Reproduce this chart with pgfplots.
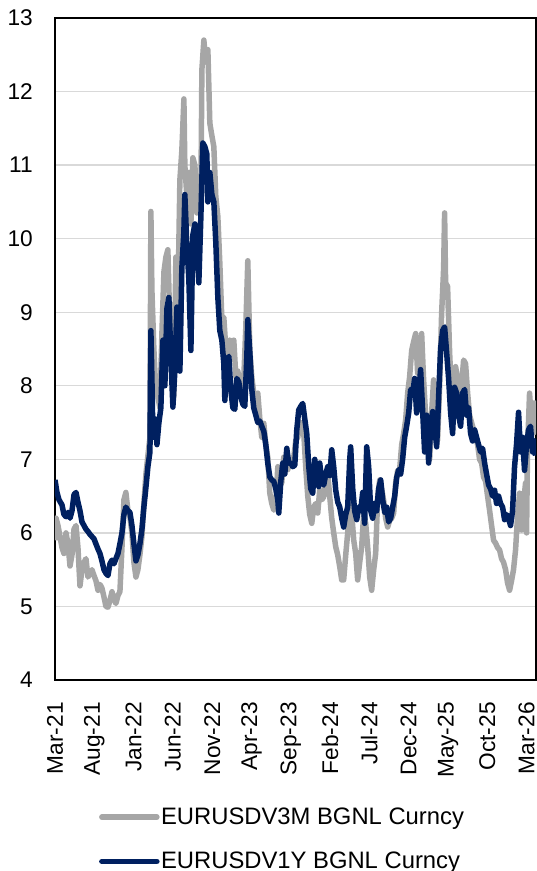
\documentclass[border=0pt]{standalone}
\usepackage{pgfplots}
\pgfplotsset{compat=1.18}
\usepackage{fontspec}
\setmainfont{Liberation Sans}
\definecolor{volgray}{RGB}{166,166,166}
\definecolor{volnavy}{RGB}{0,32,96}
\definecolor{gridgray}{RGB}{217,217,217}
\newcommand{\fs}{\fontsize{22.7pt}{27pt}\selectfont}
\newcommand{\lfs}{\fontsize{23.8pt}{28pt}\selectfont}
\begin{document}
\begin{tikzpicture}
\useasboundingbox (-55pt,-191pt) rectangle (482pt,680pt);
\begin{axis}[
  at={(0pt,0pt)}, anchor=south west,
  scale only axis, width=481pt, height=662pt,
  xmin=0, xmax=61.2, ymin=4, ymax=13,
  xtick={0,5,...,60},
  xticklabels={Mar-21,Aug-21,Jan-22,Jun-22,Nov-22,Apr-23,Sep-23,Feb-24,Jul-24,Dec-24,May-25,Oct-25,Mar-26},
  ytick={4,5,...,13},
  major tick length=0pt,
  axis line style={black, line width=1.2pt},
  ymajorgrids, grid style={gridgray, line width=1.3pt},
  tick label style={font=\fs},
  /pgf/number format/assume math mode=true,
  yticklabel style={inner sep=0pt, xshift=-22pt},
  xticklabel style={rotate=90, anchor=east, inner xsep=22pt, inner ysep=0pt},
  legend style={font=\lfs, draw=none, fill=none, inner sep=0pt,
    at={(0.0913,-0.191)}, anchor=north west,
    nodes={inner sep=1.5pt, anchor=west}, row sep=23pt},
  legend cell align=left,
  legend image code/.code={\draw[#1, line width=5.5pt, line cap=round] (0pt,0pt) -- (55pt,0pt);},
]
\addplot[volgray, line width=5.5pt, line join=round] coordinates {
(0.00,5.90)(0.13,6.20)(0.38,6.10)(0.64,5.95)(0.89,5.80)(1.14,5.72)(1.40,6.00)(1.65,5.85)(1.91,5.55)(2.16,5.70)(2.42,6.05)(2.67,6.10)(2.92,5.80)(3.18,5.28)(3.43,5.50)(3.69,5.60)(3.94,5.65)(4.19,5.40)(4.45,5.45)(4.70,5.50)(4.96,5.42)(5.21,5.35)(5.47,5.22)(5.72,5.30)(5.97,5.25)(6.23,5.13)(6.48,5.00)(6.74,4.99)(6.99,5.08)(7.25,5.20)(7.50,5.10)(7.75,5.04)(8.01,5.15)(8.26,5.20)(8.52,5.80)(8.77,6.45)(9.02,6.55)(9.28,6.30)(9.53,6.22)(9.79,6.00)(10.04,5.60)(10.30,5.40)(10.55,5.50)(10.80,5.70)(11.06,5.95)(11.31,6.40)(11.57,6.80)(11.82,7.05)(12.08,7.30)(12.20,10.37)(12.33,9.30)(12.58,8.50)(12.84,7.90)(13.09,7.85)(13.35,7.70)(13.60,8.70)(13.86,9.55)(14.11,9.75)(14.36,9.85)(14.62,8.80)(14.87,8.30)(15.13,7.85)(15.38,9.75)(15.63,9.10)(15.89,10.80)(16.14,11.20)(16.40,11.90)(16.52,11.00)(16.78,10.57)(17.03,10.90)(17.29,10.20)(17.54,11.10)(17.80,11.00)(18.05,10.35)(18.30,10.40)(18.56,10.57)(18.69,12.30)(18.94,12.70)(19.19,12.40)(19.45,12.57)(19.70,11.57)(19.96,11.40)(20.21,11.25)(20.46,10.57)(20.72,10.30)(20.97,9.67)(21.23,8.90)(21.48,8.93)(21.74,8.50)(21.99,8.08)(22.24,8.62)(22.50,8.45)(22.75,8.62)(23.01,8.12)(23.26,8.20)(23.52,8.03)(23.77,7.94)(24.02,8.10)(24.28,8.80)(24.53,9.70)(24.79,8.48)(25.04,8.12)(25.29,7.90)(25.55,7.76)(25.80,7.90)(26.06,7.55)(26.31,7.30)(26.57,7.49)(26.82,7.20)(27.07,7.03)(27.33,6.54)(27.58,6.40)(27.84,6.31)(28.09,6.40)(28.35,6.90)(28.60,6.75)(28.85,6.68)(29.11,7.03)(29.36,6.95)(29.62,6.86)(29.87,7.00)(30.13,6.95)(30.38,7.03)(30.63,7.25)(30.89,7.30)(31.14,7.49)(31.40,7.50)(31.65,7.36)(31.90,6.90)(32.16,6.50)(32.41,6.25)(32.67,6.13)(32.92,6.35)(33.18,6.40)(33.43,6.27)(33.68,6.58)(33.94,6.45)(34.19,6.49)(34.45,6.70)(34.70,6.81)(34.96,6.49)(35.21,6.20)(35.46,6.00)(35.72,5.81)(35.97,5.70)(36.23,5.54)(36.48,5.36)(36.73,5.36)(36.99,5.70)(37.24,6.00)(37.50,6.49)(37.75,6.27)(38.01,5.90)(38.26,5.72)(38.51,5.36)(38.77,5.60)(39.02,5.81)(39.28,6.27)(39.53,6.13)(39.79,5.80)(40.04,5.40)(40.29,5.22)(40.55,5.50)(40.80,5.72)(41.06,6.49)(41.31,6.72)(41.56,6.60)(41.82,6.44)(42.07,6.20)(42.33,6.08)(42.58,6.17)(42.84,6.20)(43.09,6.27)(43.34,6.68)(43.60,6.85)(43.85,6.86)(44.11,7.20)(44.36,7.35)(44.62,7.54)(44.87,7.90)(45.12,8.12)(45.38,8.48)(45.63,8.60)(45.89,8.71)(46.14,8.17)(46.40,8.40)(46.65,8.71)(46.90,8.08)(47.16,7.60)(47.41,7.26)(47.67,7.00)(47.92,7.63)(48.17,8.08)(48.43,7.80)(48.68,7.26)(48.94,8.00)(49.19,8.98)(49.45,9.60)(49.57,10.35)(49.70,9.40)(49.95,9.35)(50.21,8.45)(50.46,7.85)(50.72,8.17)(50.97,8.26)(51.22,8.10)(51.48,7.85)(51.73,8.00)(51.99,8.35)(52.24,8.30)(52.50,7.90)(52.75,7.60)(53.00,7.50)(53.26,7.40)(53.51,7.30)(53.77,7.20)(54.02,7.00)(54.28,6.95)(54.53,6.76)(54.79,6.70)(55.04,6.50)(55.29,6.31)(55.55,6.10)(55.80,5.90)(56.06,5.86)(56.31,5.80)(56.56,5.77)(56.82,5.65)(57.07,5.60)(57.33,5.50)(57.58,5.32)(57.84,5.22)(58.09,5.35)(58.34,5.50)(58.60,5.77)(58.85,6.22)(59.11,6.54)(59.36,6.04)(59.61,6.40)(59.87,6.68)(60.00,6.00)(60.12,7.13)(60.38,7.90)(60.63,7.50)(60.89,7.36)(61.14,7.80)
};
\addlegendentry{EURUSDV3M BGNL Curncy}
\addplot[volnavy, line width=5.5pt, line join=round] coordinates {
(0.00,6.72)(0.25,6.55)(0.51,6.45)(0.89,6.38)(1.14,6.25)(1.40,6.22)(1.65,6.28)(1.91,6.20)(2.16,6.30)(2.42,6.52)(2.67,6.55)(2.92,6.42)(3.18,6.30)(3.43,6.15)(3.69,6.10)(3.94,6.05)(4.19,6.02)(4.45,5.98)(4.70,5.95)(4.96,5.92)(5.21,5.85)(5.47,5.78)(5.72,5.72)(5.97,5.62)(6.23,5.50)(6.48,5.45)(6.74,5.42)(6.99,5.58)(7.25,5.63)(7.50,5.58)(7.75,5.65)(8.01,5.72)(8.26,5.85)(8.52,6.00)(8.77,6.25)(9.02,6.35)(9.28,6.30)(9.53,6.28)(9.79,6.10)(10.04,5.85)(10.30,5.62)(10.55,5.70)(10.80,5.85)(11.06,6.05)(11.31,6.35)(11.57,6.62)(11.82,6.90)(12.08,7.10)(12.20,8.75)(12.33,8.10)(12.46,7.30)(12.71,7.55)(12.97,7.20)(13.22,7.50)(13.47,7.70)(13.73,8.62)(13.98,8.00)(14.24,9.05)(14.49,9.20)(14.74,8.40)(15.00,7.71)(15.25,8.20)(15.51,9.07)(15.76,8.85)(15.89,8.20)(16.14,9.60)(16.40,10.10)(16.52,10.60)(16.78,9.90)(17.03,9.45)(17.29,8.48)(17.54,10.05)(17.80,10.20)(18.05,9.85)(18.30,9.40)(18.56,10.30)(18.81,11.30)(19.07,11.25)(19.32,11.15)(19.45,10.50)(19.70,10.90)(19.96,10.60)(20.21,10.50)(20.46,9.95)(20.72,9.20)(20.97,8.75)(21.23,8.62)(21.48,8.30)(21.61,7.80)(21.86,8.35)(22.12,8.40)(22.37,7.94)(22.63,7.70)(22.88,7.68)(23.13,8.10)(23.39,8.05)(23.64,7.85)(23.90,7.75)(24.15,7.72)(24.41,8.40)(24.53,8.90)(24.79,8.45)(25.04,7.95)(25.29,7.70)(25.55,7.60)(25.80,7.50)(26.06,7.52)(26.31,7.45)(26.57,7.38)(26.82,7.20)(27.07,6.95)(27.33,6.76)(27.58,6.72)(27.84,6.70)(28.09,6.60)(28.35,6.45)(28.47,6.27)(28.73,6.70)(28.98,6.95)(29.24,6.80)(29.49,7.15)(29.74,6.95)(30.00,6.95)(30.25,6.90)(30.51,6.92)(30.76,7.40)(31.01,7.67)(31.27,7.72)(31.52,7.76)(31.78,7.55)(32.03,7.35)(32.29,6.90)(32.54,6.60)(32.79,6.54)(33.05,7.00)(33.30,6.80)(33.56,6.63)(33.68,6.95)(33.94,6.70)(34.19,6.65)(34.45,6.80)(34.70,6.90)(34.96,6.78)(35.21,7.13)(35.46,6.90)(35.72,6.58)(35.97,6.42)(36.23,6.35)(36.48,6.20)(36.73,6.08)(36.99,6.25)(37.24,6.35)(37.50,7.00)(37.62,7.17)(37.88,6.60)(38.13,6.30)(38.39,6.18)(38.64,6.35)(38.90,6.30)(39.15,6.55)(39.40,6.13)(39.66,7.17)(39.91,6.90)(40.17,6.30)(40.42,6.20)(40.68,6.40)(40.93,6.30)(41.18,6.60)(41.44,6.72)(41.69,6.45)(41.95,6.28)(42.20,6.35)(42.45,6.15)(42.71,6.20)(42.96,6.35)(43.22,6.50)(43.47,6.75)(43.73,6.86)(43.98,6.80)(44.23,7.00)(44.49,7.30)(44.74,7.45)(45.00,7.63)(45.25,7.95)(45.51,7.90)(45.76,8.10)(46.01,7.63)(46.27,7.90)(46.52,8.22)(46.78,7.65)(47.03,7.10)(47.28,7.60)(47.54,6.95)(47.79,7.40)(48.05,7.65)(48.30,7.45)(48.56,7.17)(48.81,7.85)(49.06,8.50)(49.32,8.75)(49.57,8.80)(49.83,8.45)(50.08,8.10)(50.34,7.63)(50.59,7.35)(50.84,7.98)(51.10,7.90)(51.35,7.60)(51.61,7.45)(51.86,7.90)(52.12,7.95)(52.37,7.60)(52.62,7.70)(52.88,7.35)(53.13,7.25)(53.39,7.40)(53.64,7.30)(53.89,7.20)(54.15,7.10)(54.40,7.15)(54.66,6.95)(54.91,6.80)(55.17,6.65)(55.42,6.60)(55.67,6.50)(55.93,6.58)(56.18,6.40)(56.44,6.50)(56.69,6.40)(56.95,6.35)(57.20,6.18)(57.45,6.25)(57.71,6.20)(57.96,6.10)(58.22,6.30)(58.47,6.90)(58.72,7.20)(58.98,7.64)(59.23,7.10)(59.49,7.30)(59.74,6.85)(60.00,7.20)(60.25,7.40)(60.50,7.45)(60.76,7.10)(61.01,7.25)(61.14,7.05)
};
\addlegendentry{EURUSDV1Y BGNL Curncy}
\end{axis}
\end{tikzpicture}
\end{document}
